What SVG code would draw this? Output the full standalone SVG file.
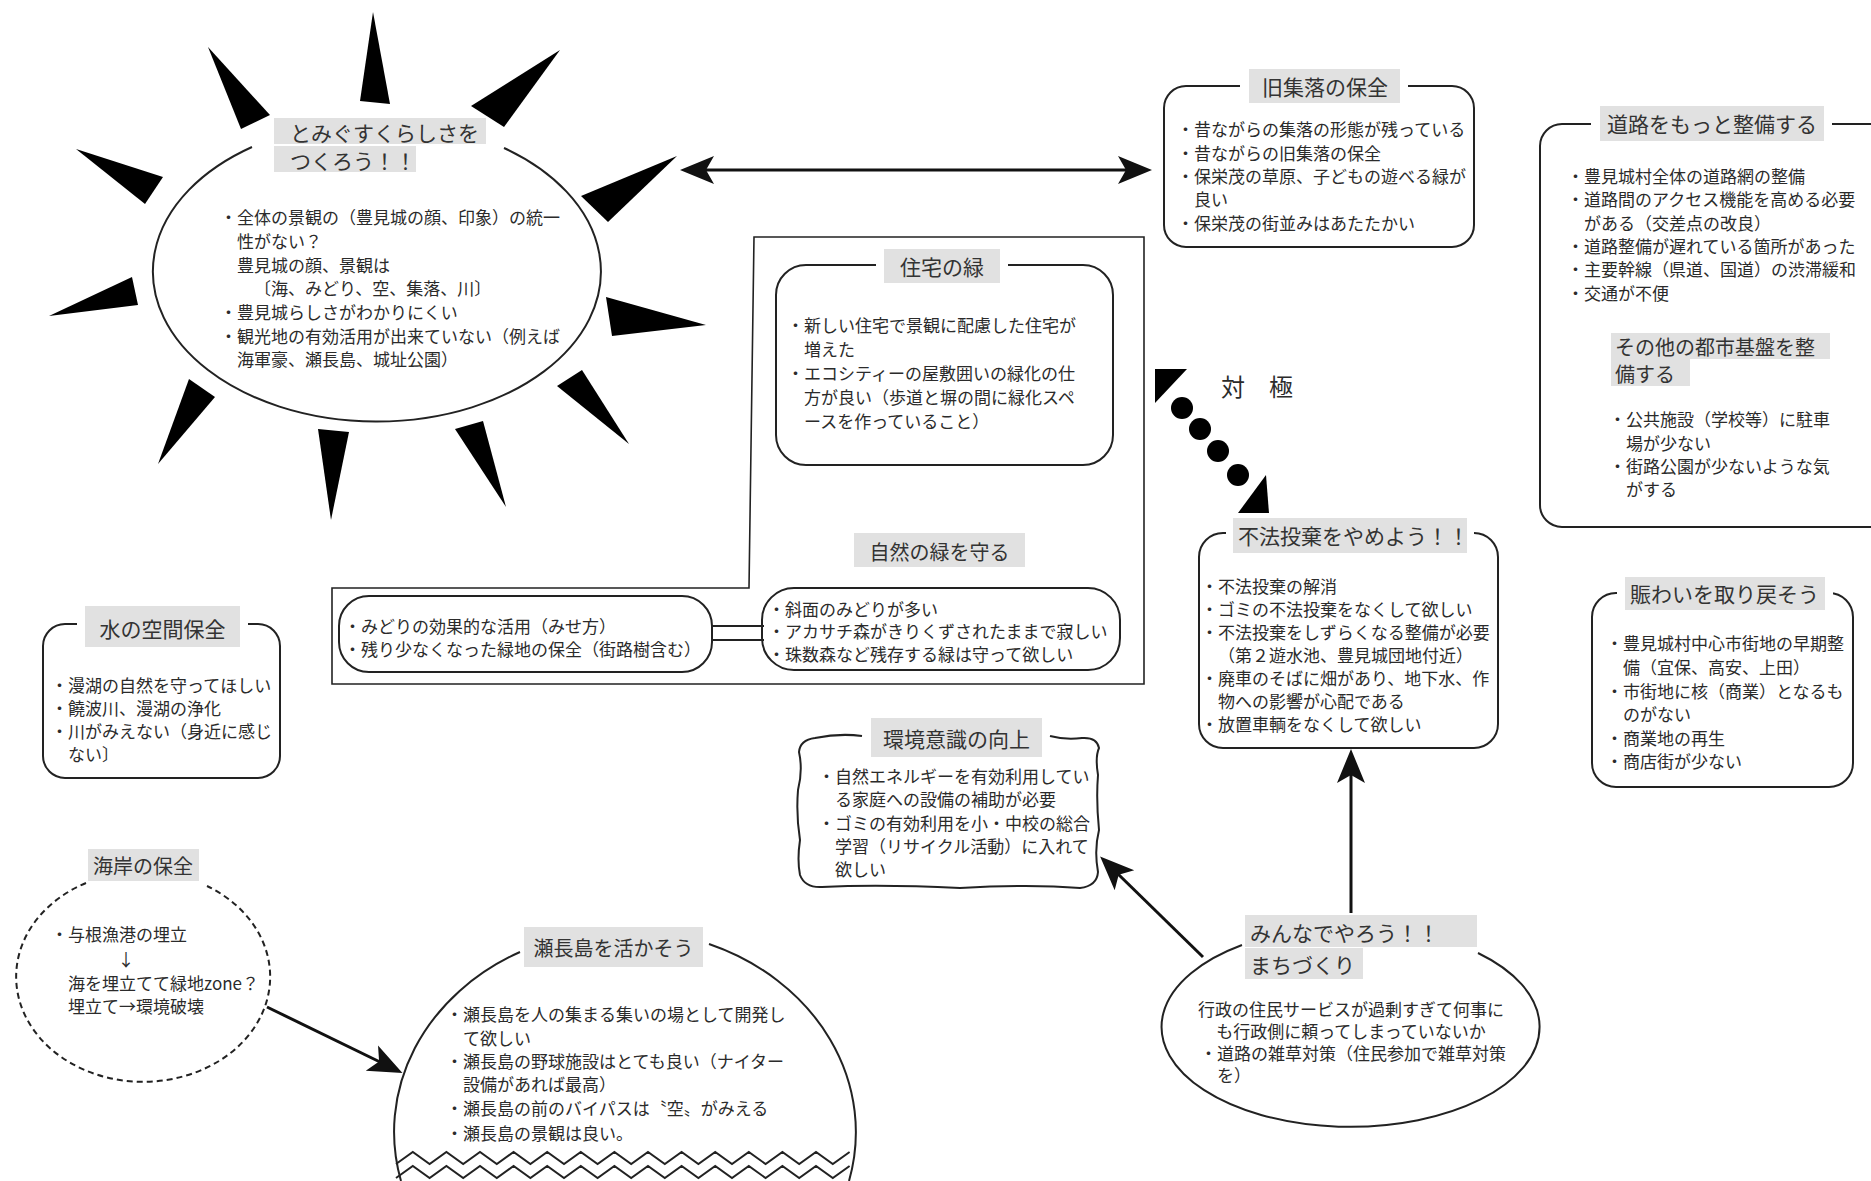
<svg xmlns="http://www.w3.org/2000/svg" width="1871" height="1181" viewBox="0 0 1871 1181">
<defs>
<style>
text{font-family:"Noto Sans CJK JP","Noto Sans CJK SC",sans-serif;dominant-baseline:central;fill:#2b2b2b}
.t{font-size:17px}
.h{font-size:21px;fill:#333}
.hm{font-size:20px;fill:#333}
.box{fill:#fff;stroke:#222;stroke-width:2}
.ln{fill:none;stroke:#222;stroke-width:2}
.tab{fill:#e1e1e1}
.gap{fill:#fff}
.spike{fill:#000}
.arr{fill:none;stroke:#111;stroke-width:3}
</style>
<marker id="head" viewBox="-11 -15 37 30" refX="0" refY="0" markerWidth="37" markerHeight="30" markerUnits="userSpaceOnUse" orient="auto-start-reverse">
<path d="M25,0 L-9,-14 L-1,0 L-9,14 Z" fill="#111"/>
</marker>
</defs>
<rect width="1871" height="1181" fill="#fff"/>

<!-- central sun-shaped theme -->
<g id="sun">
<polygon class="spike" points="373,12 360,101 390,104"/>
<polygon class="spike" points="208,47 241,129 270,115"/>
<polygon class="spike" points="560,50 471,106 504,127"/>
<polygon class="spike" points="76,149 145,204 163,177"/>
<polygon class="spike" points="677,156 581,196 608,222"/>
<polygon class="spike" points="49,316 132,277 138,305"/>
<polygon class="spike" points="706,325 606,297 612,336"/>
<polygon class="spike" points="158,464 189,379 215,397"/>
<polygon class="spike" points="629,444 557,386 582,370"/>
<polygon class="spike" points="331,520 318,429 349,432"/>
<polygon class="spike" points="506,507 455,429 483,421"/>
<path class="ln" d="M252 147 A224 150 0 1 0 504 148"/>
<rect class="tab" x="274" y="118" width="212" height="26"/>
<rect class="tab" x="274" y="146" width="142" height="26"/>
<text class="h" x="290" y="132">とみぐすくらしさを</text>
<text class="h" x="290" y="160">つくろう！！</text>
<text class="t" x="220" y="216">・全体の景観の（豊見城の顔、印象）の統一</text>
<text class="t" x="237" y="240">性がない？</text>
<text class="t" x="237" y="264">豊見城の顔、景観は</text>
<text class="t" x="254" y="287">〔海、みどり、空、集落、川〕</text>
<text class="t" x="220" y="311">・豊見城らしさがわかりにくい</text>
<text class="t" x="220" y="335">・観光地の有効活用が出来ていない（例えば</text>
<text class="t" x="237" y="358">海軍豪、瀬長島、城址公園）</text>
</g>

<!-- old settlements -->
<g id="kyushuraku">
<rect class="box" x="1164" y="86" width="310" height="161" rx="22"/>
<rect class="gap" x="1240" y="80" width="168" height="12"/>
<rect class="tab" x="1249" y="69" width="151" height="34"/>
<text class="h" x="1262" y="86">旧集落の保全</text>
<text class="t" x="1177" y="128">・昔ながらの集落の形態が残っている</text>
<text class="t" x="1177" y="152">・昔ながらの旧集落の保全</text>
<text class="t" x="1177" y="175">・保栄茂の草原、子どもの遊べる緑が</text>
<text class="t" x="1194" y="198">良い</text>
<text class="t" x="1177" y="222">・保栄茂の街並みはあたたかい</text>
</g>

<!-- roads and other infrastructure -->
<g id="road">
<rect class="box" x="1540" y="124" width="360" height="403" rx="22"/>
<rect class="gap" x="1591" y="118" width="241" height="12"/>
<rect class="tab" x="1600" y="106" width="224" height="35"/>
<text class="h" x="1607" y="123">道路をもっと整備する</text>
<text class="t" x="1567" y="175">・豊見城村全体の道路網の整備</text>
<text class="t" x="1567" y="198">・道路間のアクセス機能を高める必要</text>
<text class="t" x="1584" y="222">がある（交差点の改良）</text>
<text class="t" x="1567" y="245">・道路整備が遅れている箇所があった</text>
<text class="t" x="1567" y="268">・主要幹線（県道、国道）の渋滞緩和</text>
<text class="t" x="1567" y="292">・交通が不便</text>
<rect class="tab" x="1611" y="333" width="219" height="26"/>
<rect class="tab" x="1611" y="359" width="79" height="27"/>
<text class="hm" x="1615" y="346">その他の都市基盤を整</text>
<text class="hm" x="1615" y="373">備する</text>
<text class="t" x="1609" y="418">・公共施設（学校等）に駐車</text>
<text class="t" x="1626" y="442">場が少ない</text>
<text class="t" x="1609" y="465">・街路公園が少ないような気</text>
<text class="t" x="1626" y="488">がする</text>
</g>

<!-- greenery frame -->
<g id="green-area">
<path d="M754 237 L1144 237 L1144 684 L332 684 L332 588 L749 588 Z" fill="none" stroke="#222" stroke-width="1.6"/>
</g>

<g id="jutaku">
<rect class="box" x="776" y="265" width="337" height="200" rx="30"/>
<rect class="gap" x="876" y="258" width="132" height="14"/>
<rect class="tab" x="884" y="249" width="116" height="34"/>
<text class="h" x="900" y="266">住宅の緑</text>
<text class="t" x="787" y="324">・新しい住宅で景観に配慮した住宅が</text>
<text class="t" x="804" y="348">増えた</text>
<text class="t" x="787" y="372">・エコシティーの屋敷囲いの緑化の仕</text>
<text class="t" x="804" y="396">方が良い（歩道と塀の間に緑化スペ</text>
<text class="t" x="804" y="420">ースを作っていること）</text>
</g>

<g id="shizen-title">
<rect class="tab" x="854" y="533" width="171" height="34"/>
<text class="hm" x="939.5" y="551" text-anchor="middle">自然の緑を守る</text>
</g>

<g id="midori-katsuyou">
<rect class="box" x="339" y="596" width="373" height="76" rx="30"/>
<text class="t" x="344" y="625">・みどりの効果的な活用（みせ方）</text>
<text class="t" x="344" y="648">・残り少なくなった緑地の保全（街路樹含む）</text>
</g>

<g id="shamen">
<rect class="box" x="762" y="588" width="358" height="82" rx="32"/>
<text class="t" x="768" y="608">・斜面のみどりが多い</text>
<text class="t" x="768" y="630">・アカサチ森がきりくずされたままで寂しい</text>
<text class="t" x="768" y="653">・珠数森など残存する緑は守って欲しい</text>
</g>

<!-- illegal dumping -->
<g id="fuho">
<rect class="box" x="1199" y="533" width="299" height="215" rx="24"/>
<rect class="gap" x="1226" y="526" width="248" height="14"/>
<rect class="tab" x="1233" y="518" width="234" height="35"/>
<text class="h" x="1238" y="535">不法投棄をやめよう！！</text>
<text class="t" x="1201" y="585">・不法投棄の解消</text>
<text class="t" x="1201" y="608">・ゴミの不法投棄をなくして欲しい</text>
<text class="t" x="1201" y="631">・不法投棄をしずらくなる整備が必要</text>
<text class="t" x="1218" y="654">（第２遊水池、豊見城団地付近）</text>
<text class="t" x="1201" y="677">・廃車のそばに畑があり、地下水、作</text>
<text class="t" x="1218" y="700">物への影響が心配である</text>
<text class="t" x="1201" y="723">・放置車輌をなくして欲しい</text>
</g>

<!-- environmental awareness (hand-drawn border) -->
<g id="kankyo">
<path d="M862 736 Q840 733 815 738 Q800 740 799 752 Q803 770 798 790 Q796 815 800 840 Q797 860 800 875 Q805 888 822 887 Q880 884 960 888 Q1030 884 1080 888 Q1097 886 1098 872 Q1094 850 1099 830 Q1096 800 1098 775 Q1095 757 1099 748 Q1097 737 1082 738 Q1065 740 1050 736" fill="#fff" stroke="#222" stroke-width="2"/>
<rect class="tab" x="871" y="718" width="171" height="39"/>
<text class="h" x="883" y="738">環境意識の向上</text>
<text class="t" x="818" y="775">・自然エネルギーを有効利用してい</text>
<text class="t" x="835" y="798">る家庭への設備の補助が必要</text>
<text class="t" x="818" y="822">・ゴミの有効利用を小・中校の総合</text>
<text class="t" x="835" y="845">学習（リサイクル活動）に入れて</text>
<text class="t" x="835" y="868">欲しい</text>
</g>

<!-- bustle downtown -->
<g id="nigiwai">
<rect class="box" x="1592" y="593" width="261" height="194" rx="24"/>
<rect class="gap" x="1617" y="586" width="216" height="14"/>
<rect class="tab" x="1625" y="577" width="200" height="33"/>
<text class="h" x="1630" y="593">賑わいを取り戻そう</text>
<text class="t" x="1606" y="642">・豊見城村中心市街地の早期整</text>
<text class="t" x="1623" y="666">備（宜保、高安、上田）</text>
<text class="t" x="1606" y="690">・市街地に核（商業）となるも</text>
<text class="t" x="1623" y="713">のがない</text>
<text class="t" x="1606" y="737">・商業地の再生</text>
<text class="t" x="1606" y="760">・商店街が少ない</text>
</g>

<!-- water spaces -->
<g id="mizu">
<rect class="box" x="43" y="624" width="237" height="154" rx="22"/>
<rect class="gap" x="77" y="618" width="171" height="12"/>
<rect class="tab" x="85" y="606" width="155" height="41"/>
<text class="h" x="162.5" y="628" text-anchor="middle">水の空間保全</text>
<text class="t" x="51" y="684">・漫湖の自然を守ってほしい</text>
<text class="t" x="51" y="707">・饒波川、漫湖の浄化</text>
<text class="t" x="51" y="730">・川がみえない（身近に感じ</text>
<text class="t" x="68" y="753">ない〕</text>
</g>

<!-- coast preservation -->
<g id="kaigan">
<path d="M86 883 A127 105 0 1 0 207 886" fill="none" stroke="#222" stroke-width="2" stroke-dasharray="6 4"/>
<rect class="tab" x="88" y="849" width="111" height="32"/>
<text class="hm" x="93" y="865">海岸の保全</text>
<text class="t" x="51" y="933">・与根漁港の埋立</text>
<text class="t" x="126" y="958" text-anchor="middle">↓</text>
<text class="t" x="68" y="982">海を埋立てて緑地zone？</text>
<text class="t" x="68" y="1005">埋立て→環境破壊</text>
</g>

<!-- Senaga island -->
<g id="senaga">
<path class="ln" d="M401 1181 A231 202 0 0 1 520 952 M709 944 A231 202 0 0 1 849 1181"/>
<path class="ln" stroke-width="1.6" d="M396 1164 l16.8 -12 l16.8 12 l16.8 -12 l16.8 12 l16.8 -12 l16.8 12 l16.8 -12 l16.8 12 l16.8 -12 l16.8 12 l16.8 -12 l16.8 12 l16.8 -12 l16.8 12 l16.8 -12 l16.8 12 l16.8 -12 l16.8 12 l16.8 -12 l16.8 12 l16.8 -12 l16.8 12 l16.8 -12 l16.8 12 l16.8 -12 l16.8 12 l16.8 -12 M396 1178 l16.8 -12 l16.8 12 l16.8 -12 l16.8 12 l16.8 -12 l16.8 12 l16.8 -12 l16.8 12 l16.8 -12 l16.8 12 l16.8 -12 l16.8 12 l16.8 -12 l16.8 12 l16.8 -12 l16.8 12 l16.8 -12 l16.8 12 l16.8 -12 l16.8 12 l16.8 -12 l16.8 12 l16.8 -12 l16.8 12 l16.8 -12 l16.8 12 l16.8 -12"/>
<rect class="tab" x="524" y="927" width="179" height="40"/>
<text class="hm" x="613.5" y="947" text-anchor="middle">瀬長島を活かそう</text>
<text class="t" x="446" y="1013">・瀬長島を人の集まる集いの場として開発し</text>
<text class="t" x="463" y="1037">て欲しい</text>
<text class="t" x="446" y="1060">・瀬長島の野球施設はとても良い（ナイター</text>
<text class="t" x="463" y="1083">設備があれば最高）</text>
<text class="t" x="446" y="1107">・瀬長島の前のバイパスは〝空〟がみえる</text>
<text class="t" x="446" y="1132">・瀬長島の景観は良い。</text>
</g>

<!-- community action -->
<g id="minna">
<path class="ln" d="M1242 945 A189 100 0 1 0 1478 953"/>
<rect class="tab" x="1245" y="915" width="232" height="32"/>
<rect class="tab" x="1245" y="948" width="118" height="31"/>
<text class="h" x="1250" y="932">みんなでやろう！！</text>
<text class="h" x="1250" y="964">まちづくり</text>
<text class="t" x="1351" y="1008" text-anchor="middle">行政の住民サービスが過剰すぎて何事に</text>
<text class="t" x="1351" y="1030" text-anchor="middle">も行政側に頼ってしまっていないか</text>
<text class="t" x="1200" y="1052">・道路の雑草対策（住民参加で雑草対策</text>
<text class="t" x="1217" y="1074">を）</text>
</g>

<!-- connectors -->
<g id="connectors">
<line class="arr" x1="705" y1="170" x2="1127" y2="170" marker-start="url(#head)" marker-end="url(#head)"/>
<line class="arr" x1="1351" y1="913" x2="1351" y2="774" marker-end="url(#head)"/>
<line class="arr" x1="1203" y1="957" x2="1118" y2="874" marker-end="url(#head)"/>
<line class="arr" x1="267" y1="1007" x2="380" y2="1062" marker-end="url(#head)"/>
<line class="ln" x1="712" y1="626" x2="764" y2="626"/>
<line class="ln" x1="712" y1="640" x2="764" y2="640"/>
<g id="taikyoku">
<polygon points="1155,369 1187,369 1155,403" fill="#000"/>
<circle cx="1182" cy="408" r="11" fill="#000"/>
<circle cx="1200" cy="429" r="11" fill="#000"/>
<circle cx="1218" cy="451" r="11" fill="#000"/>
<circle cx="1238" cy="475" r="11" fill="#000"/>
<polygon points="1266,475 1269,513 1238,513" fill="#000"/>
<text x="1233" y="385" font-size="24" text-anchor="middle">対</text>
<text x="1281" y="385" font-size="24" text-anchor="middle">極</text>
</g>
</g>
</svg>
